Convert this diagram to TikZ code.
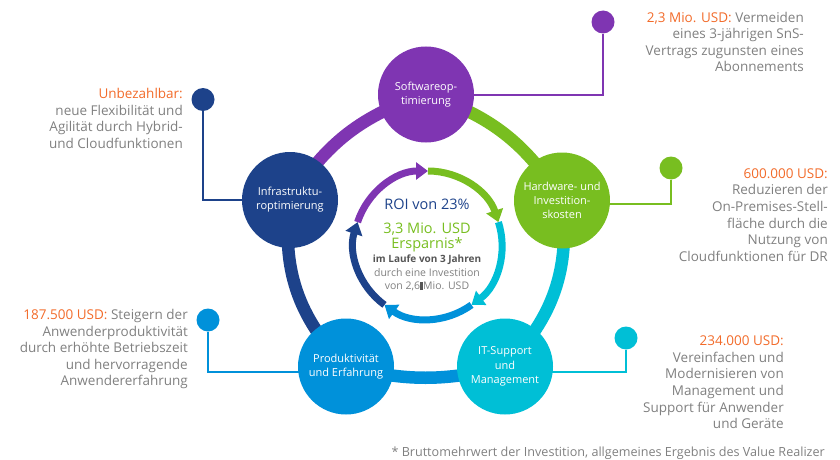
\documentclass[tikz,border=0pt]{standalone}
\usepackage{fontspec}
\setmainfont{Open Sans}
\usetikzlibrary{arrows.meta,backgrounds}

\definecolor{swpurple}{HTML}{7F35B2}
\definecolor{hwgreen}{HTML}{78BE20}
\definecolor{itcyan}{HTML}{00BFD6}
\definecolor{prblue}{HTML}{0091DA}
\definecolor{infnavy}{HTML}{1D428A}
\definecolor{amount}{HTML}{F26B2A}
\definecolor{textgrey}{HTML}{808080}
\definecolor{textdark}{HTML}{555555}

\begin{document}
\begin{tikzpicture}[x=1pt, y=1pt,
        bubble/.style = {circle, fill=#1, minimum size=96pt, inner sep=0pt,
                         align=center, text=white,
                         font=\fontsize{11}{14.2}\selectfont},
           dot/.style = {circle, fill=#1, minimum size=23pt, inner sep=0pt},
          ring/.style = {line width=12.5pt, draw=#1},
          link/.style = {line width=2pt, draw=#1},
           cyc/.style = {line width=7pt, draw=#1,
                         -{Triangle[width=17pt,length=12pt]}},
          note/.style = {anchor=north east, inner sep=0pt, align=right,
                         text=textgrey, font=\fontsize{13.5}{16.6}\selectfont},
           mid/.style = {anchor=base, inner sep=0pt, font=\fontsize{#1}{#1}\selectfont}
                                ]
    % frame
    \useasboundingbox (0,0) rectangle (840,459);
    % circles
    \node[bubble=swpurple] (sw)  at (426,364.5) {Softwareop-\\timierung};
    \node[bubble=hwgreen]  (hw)  at (562,258.5) {Hardware- und\\Investition-\\skosten};
    \node[bubble=itcyan]   (it)  at (505,92.5)  {IT-Support\\und\\Management};
    \node[bubble=prblue]   (pr)  at (346,92.5)  {Produktivität\\und Erfahrung};
    \node[bubble=infnavy]  (inf) at (290,259)   {Infrastruktu-\\roptimierung};
    % dots
    \node[dot=swpurple] (dsw)  at (603,437)   {};
    \node[dot=hwgreen]  (dhw)  at (671,291)   {};
    \node[dot=itcyan]   (dit)  at (626,121)   {};
    \node[dot=prblue]   (dpr)  at (208,139)   {};
    \node[dot=infnavy]  (dinf) at (203,359.5) {};
    % ring and connectors behind the circles
    \begin{scope}[on background layer]
        \draw[ring=swpurple] (inf.center) to[bend left=20] (sw.center);
        \draw[ring=hwgreen]  (sw.center)  to[bend left=20] (hw.center);
        \draw[ring=itcyan]   (hw.center)  to[bend left=26] (it.center);
        \draw[ring=prblue]   (it.center)  to[bend left=14] (pr.center);
        \draw[ring=infnavy]  (pr.center)  to[bend left=26] (inf.center);
        \draw[link=swpurple] (dsw)  |- (sw.center);
        \draw[link=hwgreen]  (dhw)  |- ([yshift=-3pt]hw.center);
        \draw[link=itcyan]   (dit)  |- ([yshift=-5pt]it.center);
        \draw[link=prblue]   (dpr)  |- ([yshift=-5pt]pr.center);
        \draw[link=infnavy]  (dinf) |- (inf.center);
    \end{scope}

    % inner cycle
    \coordinate (hub) at (428,214);
    \foreach \a/\c in {162/swpurple, 90/hwgreen, 18/itcyan, -54/prblue, -126/infnavy}
        \draw[cyc=\c] (hub) ++(\a:74) arc[start angle=\a, delta angle=-72, radius=74];

    % centre text
    \node[mid=14.5, text=infnavy] (roi)  at (427,249.5) {ROI von 23\%};
    \node[mid=14.5, text=hwgreen]   (gain) at (427,226)   {3,3 Mio. USD};
    \node[mid=14.5, text=hwgreen]   (gainb) at (427,211)  {Ersparnis*};
    \node[mid=9.3, text=textdark, font=\bfseries] (span) at (427,197) {im Laufe von 3 Jahren};
    \node[mid=10.5, text=textgrey]  (cost) at (427,183)   {durch eine Investition};
    \node[mid=10.5, text=textgrey]  (costb) at (427,169.5)
        {von 2,6\textcolor{textdark}{\rule[-0.5pt]{3pt}{8pt}}Mio. USD};

    % notes
    \node[note] (nsw) at (804,447.3)
        {\textcolor{amount}{2,3 Mio. USD:} Vermeiden\\eines 3-jährigen SnS-\\Vertrags zugunsten eines\\Abonnements};
    \node[note] (nhw) at (828,290.7)
        {\textcolor{amount}{600.000 USD:}\\Reduzieren der\\On-Premises-Stell-\\fläche durch die\\Nutzung von\\Cloudfunktionen für DR};
    \node[note] (nit) at (784,123.3)
        {\textcolor{amount}{234.000 USD:}\\Vereinfachen und\\Modernisieren von\\Management und\\Support für Anwender\\und Geräte};
    \node[note] (npr) at (188,150)
        {\textcolor{amount}{187.500 USD:} Steigern der\\Anwenderproduktivität\\durch erhöhte Betriebszeit\\und hervorragende\\Anwendererfahrung};
    \node[note] (ninf) at (183,370.7)
        {\textcolor{amount}{Unbezahlbar:}\\neue Flexibilität und\\Agilität durch Hybrid-\\und Cloudfunktionen};

    % footnote
    \node[anchor=base east, inner sep=0pt, text=textgrey, font=\fontsize{12.6}{12.6}\selectfont]
        (foot) at (825,3) {* Bruttomehrwert der Investition, allgemeines Ergebnis des Value Realizer};
\end{tikzpicture}
\end{document}
